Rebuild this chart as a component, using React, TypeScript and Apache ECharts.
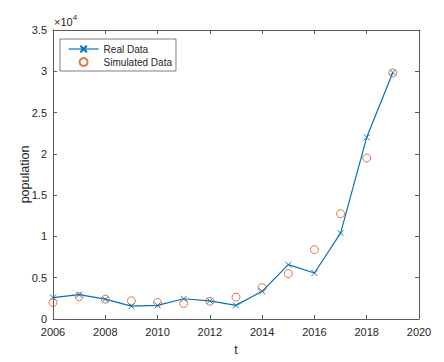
import React, { useEffect, useRef } from "react";
import * as echarts from "echarts";

const years = [2006, 2007, 2008, 2009, 2010, 2011, 2012, 2013, 2014, 2015, 2016, 2017, 2018, 2019];
const realData = [2600, 2950, 2400, 1550, 1650, 2450, 2200, 1650, 3350, 6580, 5570, 10400, 22000, 29850];
const simData = [2000, 2700, 2400, 2200, 2000, 1900, 2150, 2650, 3800, 5500, 8400, 12750, 19500, 29800];
const xTicks = { min: 2006, max: 2020, interval: 2 };
const yTicks = { min: 0, max: 35000, interval: 5000 };

const BLUE = "#0072BD";
const ORANGE = "#D95319";
const AXIS = "#5a5a5a";
const TEXT = "#262626";
const FONT = "'Liberation Sans', Arial, Helvetica, sans-serif";

export default function App() {
  const ref = useRef<HTMLDivElement>(null);
  useEffect(() => {
    if (!ref.current) return;
    document.body.style.margin = "0";
    const chart = echarts.init(ref.current, null, { renderer: "svg" });
    const axisCommon = {
      axisLine: { show: true, onZero: false, lineStyle: { color: AXIS, width: 1 } },
      axisTick: { show: true, inside: true, length: 4, lineStyle: { color: AXIS, width: 1 } },
      splitLine: { show: false },
    };
    const xMarker = "path://M0,0L10,10M10,0L0,10";
    chart.setOption({
      animation: false,
      backgroundColor: "#ffffff",
      textStyle: { fontFamily: FONT },
      grid: { left: 53, right: 25, top: 30, bottom: 43, containLabel: false },
      legend: {
        orient: "vertical",
        left: 60,
        top: 39,
        padding: [4, 4, 3, 8],
        itemGap: 1,
        itemWidth: 30,
        itemHeight: 8,
        borderColor: "#262626",
        borderWidth: 0.6,
        backgroundColor: "#ffffff",
        lineStyle: { width: 1.2 },
        textStyle: { fontSize: 10, lineHeight: 12, color: TEXT, fontFamily: FONT },
        data: [{ name: "Real Data" }, { name: "Simulated Data" }],
      },
      xAxis: [
        {
          type: "value",
          position: "bottom",
          ...xTicks,
          ...axisCommon,
          name: "t",
          nameLocation: "middle",
          nameGap: 24,
          nameMoveOverlap: false,
          nameTextStyle: { fontSize: 12.5, color: TEXT, fontFamily: FONT },
          axisLabel: { fontSize: 11, color: TEXT, fontFamily: FONT, margin: 7, formatter: (v: number) => String(v) },
        },
        {
          type: "value",
          position: "top",
          ...xTicks,
          ...axisCommon,
          axisLabel: { show: false },
        },
      ],
      yAxis: [
        {
          type: "value",
          position: "left",
          ...yTicks,
          ...axisCommon,
          name: "population",
          nameLocation: "middle",
          nameGap: 22,
          nameMoveOverlap: false,
          nameTextStyle: { fontSize: 12.5, color: TEXT, fontFamily: FONT },
          axisLabel: { fontSize: 11, color: TEXT, fontFamily: FONT, margin: 6, formatter: (v: number) => String(v / 10000) },
        },
        {
          type: "value",
          position: "right",
          ...yTicks,
          ...axisCommon,
          axisLabel: { show: false },
        },
      ],
      graphic: [
        {
          type: "text",
          left: 54,
          top: 13,
          style: {
            text: "{a|×10}{b|4}",
            rich: {
              a: { fontSize: 11, fill: TEXT, fontFamily: FONT, verticalAlign: "bottom" },
              b: { fontSize: 8, fill: TEXT, fontFamily: FONT, verticalAlign: "top", padding: [0, 0, 6, 0] },
            },
          },
        },
      ],
      series: [
        {
          name: "Real Data",
          type: "line",
          data: years.map((y, i) => [y, realData[i]]),
          symbol: xMarker,
          symbolSize: 6,
          showAllSymbol: true,
          lineStyle: { color: BLUE, width: 1.2 },
          itemStyle: { color: "transparent", borderColor: BLUE, borderWidth: 0.9 },
          xAxisIndex: 0,
          yAxisIndex: 0,
          z: 2,
        },
        {
          name: "Simulated Data",
          type: "scatter",
          data: years.map((y, i) => [y, simData[i]]),
          symbol: "circle",
          symbolSize: 8,
          itemStyle: { color: "rgba(255,255,255,0)", borderColor: ORANGE, borderWidth: 1 },
          xAxisIndex: 0,
          yAxisIndex: 0,
          z: 3,
        },
      ],
    });
    return () => chart.dispose();
  }, []);
  return <div ref={ref} style={{ width: 444, height: 362 }} />;
}
